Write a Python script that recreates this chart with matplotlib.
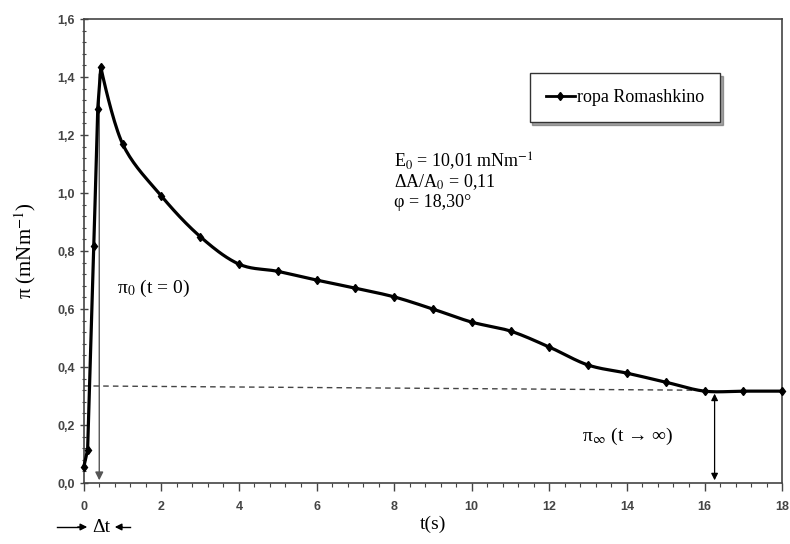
import matplotlib
matplotlib.use("Agg")
import numpy as np
import matplotlib.pyplot as plt
from matplotlib.ticker import MultipleLocator, FuncFormatter

t = [0.0, 0.1, 0.26, 0.36, 0.44, 1, 2, 3, 4, 5, 6, 7, 8, 9, 10, 11, 12, 13, 14, 15, 16, 17, 18]
pi = [0.055, 0.115, 0.817, 1.29, 1.434, 1.17, 0.99, 0.85, 0.755, 0.73, 0.70, 0.672, 0.642, 0.60,
      0.555, 0.524, 0.469, 0.407, 0.379, 0.348, 0.317, 0.317, 0.317]
series_name = "ropa Romashkino"
dash_x = [0, 16]
dash_y = [0.335, 0.32]
t0_arrow = 0.4
tinf_arrow = 16.26

plt.rcParams["mathtext.fontset"] = "stix"
serif = ["Liberation Serif", "DejaVu Serif"]


def smooth(ax, xs, ys, sharp, n=20):
    # smoothed drawing path (Bezier through the points in display space); sharp corners where flagged
    P = ax.transData.transform(np.column_stack([xs, ys]))
    N = len(P)
    tang = []
    for i in range(N):
        if i in sharp or i == 0 or i == N - 1:
            tang.append(np.zeros(2))
        else:
            tang.append((P[i + 1] - P[i - 1]) / 6.0)
    pts = [P[0]]
    for i in range(N - 1):
        p1, p2 = P[i], P[i + 1]
        c1 = p1 + tang[i]
        c2 = p2 - tang[i + 1]
        s = np.linspace(0, 1, n)[1:, None]
        seg = ((1 - s) ** 3) * p1 + 3 * ((1 - s) ** 2) * s * c1 + 3 * (1 - s) * s ** 2 * c2 + s ** 3 * p2
        pts.extend(seg)
    D = ax.transData.inverted().transform(np.array(pts))
    return D[:, 0], D[:, 1]


fig = plt.figure(figsize=(7.9, 5.44), dpi=100)
ax = fig.add_axes([0.106, 0.112, 0.884, 0.853])
ax.set_xlim(0, 18)
ax.set_ylim(0, 1.6)

sx, sy = smooth(ax, t, pi, sharp={1, 2, 3, 4})
ax.plot(sx, sy, color="black", lw=2.3, zorder=3, clip_on=False)
ax.plot(t, pi, ls="none", color="black", marker="d", ms=4.5, zorder=4, clip_on=False)
ax.plot([], [], color="black", lw=2, marker="d", ms=4.5, label=series_name)
ax.plot(dash_x, dash_y, color="#444444", lw=1, ls=(0, (4, 3)), zorder=2)

ax.annotate("", xy=(t0_arrow, 0.0), xytext=(t0_arrow, 1.42),
            arrowprops=dict(arrowstyle="-|>", color="#555555", lw=1, mutation_scale=12), zorder=1)
ax.annotate("", xy=(tinf_arrow, 0.0), xytext=(tinf_arrow, 0.318),
            arrowprops=dict(arrowstyle="<|-|>", color="black", lw=0.9, mutation_scale=10))

ax.xaxis.set_major_locator(MultipleLocator(2))
ax.xaxis.set_minor_locator(MultipleLocator(0.4))
ax.yaxis.set_major_locator(MultipleLocator(0.2))
ax.yaxis.set_minor_locator(MultipleLocator(0.04))
ax.yaxis.set_major_formatter(FuncFormatter(lambda v, p: f"{v:.1f}".replace(".", ",")))
ax.xaxis.set_major_formatter(FuncFormatter(lambda v, p: f"{v:.0f}"))
ax.tick_params(axis="both", which="major", labelsize=9, colors="#444444", length=6, width=1)
ax.tick_params(axis="both", which="minor", colors="#444444", length=3, width=0.8)
ax.tick_params(axis="y", which="both", direction="inout")
ax.tick_params(axis="x", which="both", direction="out")
ax.tick_params(axis="x", which="major", pad=7)
for lab in ax.get_xticklabels() + ax.get_yticklabels():
    lab.set_fontweight("bold")
    lab.set_family("Liberation Sans")
for s in ax.spines.values():
    s.set_color("#444444")
    s.set_linewidth(1.2)

ax.set_xlabel("t(s)", family=serif, fontsize=14, labelpad=2)
ax.set_ylabel("π (mNm$^{-1}$)", family=serif, fontsize=15, labelpad=14)

ax.text(0.87, 0.655, "π$_0$ (t = 0)", family=serif, fontsize=14)
ax.text(12.83, 0.147, "π$_\\infty$ (t → ∞)", family=serif, fontsize=14)
ax.text(8.0, 1.09, "E$_0$ = 10,01 mNm$^{-1}$", family=serif, fontsize=13)
ax.text(8.0, 1.021, "ΔA/A$_0$ = 0,11", family=serif, fontsize=13)
ax.text(8.0, 0.952, "φ = 18,30°", family=serif, fontsize=13)

leg = ax.legend(loc="upper right", bbox_to_anchor=(0.911, 0.884), frameon=True, fancybox=False,
                shadow=True, prop={"family": serif, "size": 13}, handlelength=1.6,
                handletextpad=0.1, borderpad=0.9, borderaxespad=0)
leg.get_frame().set_edgecolor("#333333")
leg.get_frame().set_linewidth(1)

yb = 1 - 527 / 544
fig.text(101 / 790, yb, "Δt", family=serif, fontsize=14, ha="center", va="center")
fig.add_artist(plt.Line2D([57 / 790, 80 / 790], [yb, yb], color="black", lw=1))
fig.add_artist(plt.Line2D([120 / 790, 130 / 790], [yb, yb], color="black", lw=1))
ax.annotate("", xy=(90 / 790, yb), xytext=(75 / 790, yb), xycoords="figure fraction",
            arrowprops=dict(arrowstyle="-|>", color="black", lw=1, mutation_scale=10))
ax.annotate("", xy=(112 / 790, yb), xytext=(125 / 790, yb), xycoords="figure fraction",
            arrowprops=dict(arrowstyle="-|>", color="black", lw=1, mutation_scale=10))

fig.savefig("out.png", dpi=100)
